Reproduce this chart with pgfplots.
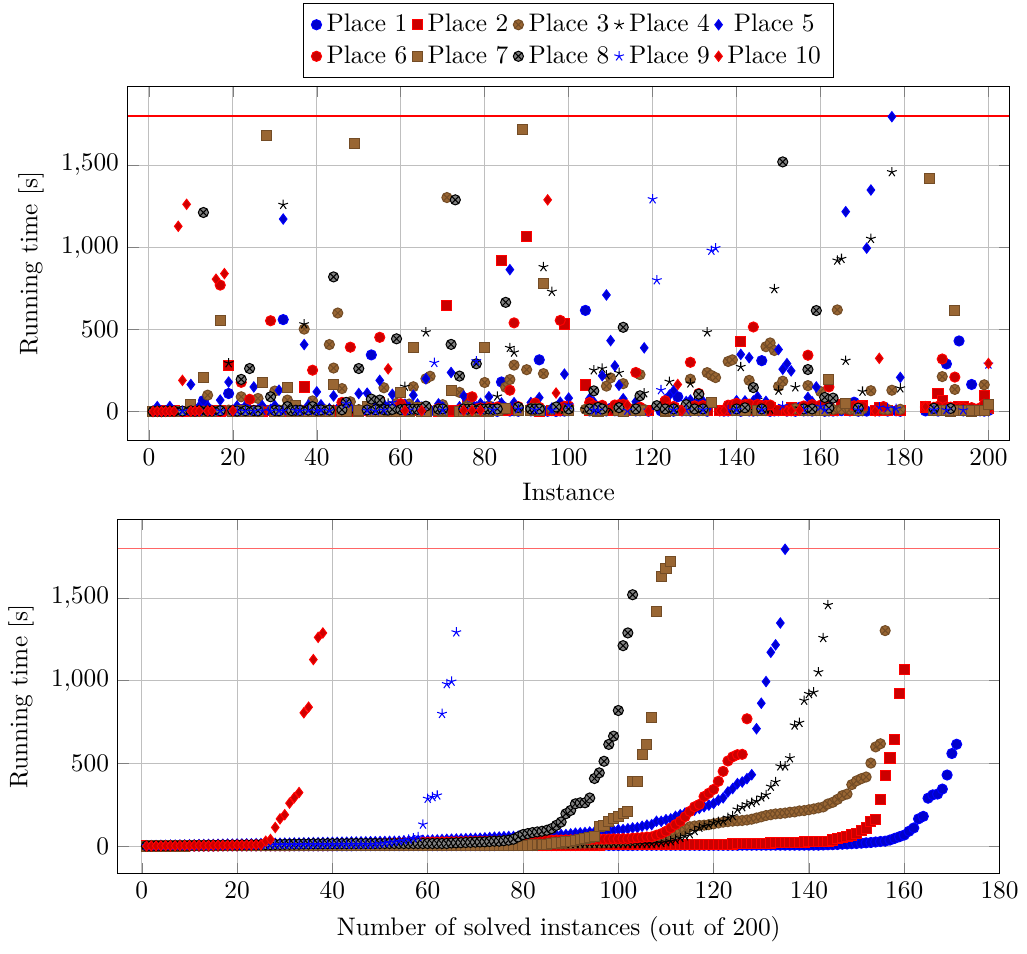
\documentclass[border=0pt]{standalone}
\usepackage{pgfplots}
\usepackage{pgfplotstable}
\pgfplotsset{compat=1.18}

% running time per instance and solver, 9999 = not solved
\pgfplotstableread{
i p1 p2 p3 p4 p5 p6 p7 p8 p9 p10
1 1 2 3 1 2 1 0 1 9999 0
2 2 3 1 2 30 1 1 2 1 1
3 3 1 2 4 3 0 2 1 9999 1
4 1 4 5 2 4 1 1 2 2 1
5 4 2 3 3 31 2 2 3 9999 2
6 2 5 4 1 5 1 1 2 9999 2
7 3 9999 9999 9999 9999 9999 9999 9999 9999 1128
8 1 3 9999 2 9999 9999 9999 3 2 190
9 5 9999 9999 9999 9999 9999 9999 9999 9999 1262
10 2 4 6 3 165 2 40 4 3 2
11 3 10 4 5 6 1 3 2 9999 3
12 1 2 7 2 32 2 1 5 1 3
13 67 5 3 4 7 3 207 1212 9999 9999
14 4 3 100 6 33 1 2 3 9999 4
15 2 6 5 3 8 2 3 4 2 4
16 6 9999 9999 9999 9999 9999 9999 9999 9999 806
17 3 4 8 5 70 770 553 5 3 9999
18 1 9999 9999 9999 9999 9999 9999 9999 9999 840
19 110 283 9 295 180 2 9999 9999 9999 9999
20 2 5 6 7 9 1 2 6 4 5
21 4 2 7 3 34 2 1 3 2 9999
22 3 6 90 4 10 178 4 196 9999 9999
23 5 11 4 6 35 3 2 5 3 9999
24 2 3 5 8 11 75 3 262 9999 9999
25 7 7 6 5 150 2 2 6 1 9999
26 1 4 80 3 12 1 1 4 9999 9999
27 4 2 7 9 36 3 177 9999 5 9999
28 9999 9999 9999 9999 9999 9999 1680 9999 9999 9999
29 3 5 8 6 13 553 9999 90 2 9999
30 2 8 125 4 37 2 3 7 9999 9999
31 5 3 9 7 130 1 2 5 4 9999
32 560 6 10 1259 1172 9999 9999 9999 3 9999
33 1 4 70 8 14 2 147 30 9999 9999
34 4 2 6 25 38 3 4 6 9999 9999
35 3 12 7 5 15 1 35 8 6 9999
36 2 5 11 9 16 2 3 7 2 9999
37 6 150 502 532 408 9999 9999 9999 9999 9999
38 1 3 8 6 40 3 2 9 5 9999
39 4 7 65 10 17 252 1 30 9999 9999
40 16 4 9 7 120 2 3 8 3 9999
41 3 2 12 11 41 1 4 10 7 9999
42 9999 9999 10 9999 9999 9999 9999 9999 9999 9999
43 5 6 408 8 18 3 2 9 4 9999
44 2 3 265 12 95 2 167 820 9999 9999
45 4 8 600 9 19 1 9999 9999 9999 9999
46 1 12 140 7 42 56 3 11 9999 9999
47 8 5 11 10 20 3 2 56 48 9999
48 3 2 60 13 21 392 9999 9999 9999 9999
49 9999 9999 9999 9999 9999 9999 1630 9999 9999 9999
50 2 4 12 11 110 2 4 262 9999 9999
51 9999 9999 9999 9999 9999 9999 9999 9999 9999 9999
52 5 7 13 6 112 1 30 10 6 9999
53 345 3 55 14 43 3 2 76 9999 9999
54 1 6 9 8 22 2 3 11 3 9999
55 4 57 14 12 190 452 9999 70 9999 9999
56 3 2 145 9 44 1 1 12 8 9999
57 2 5 10 50 23 3 4 9 9999 260
58 5 13 11 15 105 2 2 13 56 9999
59 1 4 50 10 24 1 3 443 9999 9999
60 30 6 12 13 25 48 117 12 9999 9999
61 3 3 13 152 45 8 2 14 5 6
62 2 7 46 11 26 12 4 13 9 9999
63 4 5 151 14 100 6 392 15 9999 9999
64 6 14 8 9 46 15 26 14 9999 9999
65 1 2 12 15 27 7 3 16 7 5
66 3 6 200 483 200 10 2 33 9999 9999
67 9999 9999 215 9999 9999 9999 9999 9999 9999 9999
68 5 9999 9999 9999 9999 9999 9999 9999 297 9999
69 2 3 14 12 47 18 5 15 9999 9999
70 4 8 42 10 28 9 4 16 8 9999
71 9999 645 1303 9999 9999 9999 9999 9999 9999 9999
72 3 4 9999 9999 238 9999 127 409 9999 9999
73 9999 9999 9999 9999 9999 9999 9999 1289 9999 9999
74 2 5 117 13 29 11 3 216 9999 9999
75 6 7 13 14 95 14 2 16 9 7
76 1 77 38 11 29 20 22 15 9999 9999
77 18 6 12 15 48 90 4 16 9999 6
78 4 3 14 12 28 16 3 291 307 9999
79 3 14 11 13 50 22 5 16 10 8
80 5 4 177 14 27 13 392 15 9999 9999
81 2 6 35 15 90 25 4 16 9999 9999
82 4 5 13 12 26 17 6 14 10 9999
83 1 8 14 92 25 28 5 16 9999 9999
84 180 921 12 14 52 9999 9999 9999 9999 9999
85 9 7 148 13 24 19 19 665 9999 9999
86 3 9999 195 388 864 130 9999 9999 9999 9999
87 5 15 283 360 54 540 9999 9999 9999 9999
88 2 6 13 15 23 30 6 26 15 9999
89 9999 9999 9999 9999 9999 9999 1719 9999 9999 9999
90 9999 1068 255 9999 9999 9999 9999 9999 9999 9999
91 4 5 14 12 55 21 5 16 9999 9999
92 3 7 32 18 22 52 16 15 10 9999
93 315 4 12 14 85 26 6 16 9999 9999
94 5 9999 231 880 9999 9999 778 9999 9999 9999
95 2 9999 9999 9999 9999 9999 9999 9999 9999 1289
96 6 8 13 730 21 9999 9999 9999 9 9999
97 1 5 9999 9999 9999 9999 9999 28 9999 113
98 4 16 30 15 57 555 9999 9999 9999 9999
99 3 533 14 13 228 32 9999 9999 9999 9999
100 5 6 12 14 82 34 6 16 40 9999
101 9999 9999 9999 9999 9999 9999 9999 9999 9999 9999
102 9999 9999 9999 9999 9999 9999 9999 9999 9999 9999
103 9999 9999 9999 9999 9999 9999 9999 9999 9999 9999
104 616 162 14 15 9999 9999 9999 9999 9999 9999
105 4 7 28 12 80 55 12 16 9999 9999
106 2 8 13 252 58 36 5 126 8 9999
107 6 17 14 14 20 24 4 25 7 9999
108 3 5 12 262 218 38 6 16 9999 9999
109 4 7 155 222 710 9999 9999 9999 9999 9999
110 20 6 205 15 432 9999 9999 9999 9999 9999
111 5 8 26 14 278 40 9999 9999 9999 9999
112 2 18 13 236 160 42 5 24 9999 9999
113 6 5 170 13 78 44 3 513 9999 9999
114 3 7 14 9999 9999 9999 9999 9999 6 40
115 9999 9999 9999 9999 9999 9999 9999 9999 9999 9999
116 4 8 24 15 60 238 10 16 9999 9999
117 5 6 225 14 19 27 6 96 9999 9999
118 10 7 13 112 388 9999 9999 9999 9999 9999
119 2 5 9999 9999 9999 9999 9999 9999 7 4
120 9999 9999 9999 9999 9999 9999 9999 9999 1293 9999
121 9999 9999 9999 9999 9999 9999 9999 36 800 9999
122 4 9999 9999 9999 9999 9999 9999 9999 131 9999
123 3 50 14 13 74 66 4 16 9999 9999
124 6 8 22 182 100 29 9999 9999 9999 9999
125 2 18 13 15 127 31 8 16 9 9999
126 90 7 9999 9999 9999 9999 9999 9999 9999 165
127 4 6 9999 9999 9999 9999 9999 9999 9999 7
128 5 8 14 14 61 33 6 42 8 9999
129 3 7 197 172 70 300 9999 9999 9999 9999
130 22 5 21 60 18 35 5 16 9999 9999
131 4 19 14 15 68 110 9999 106 9999 9999
132 6 8 13 14 63 37 6 16 10 9999
133 2 6 237 483 17 9999 9999 9999 9999 9999
134 9999 9999 220 9999 9999 9999 56 9999 980 9999
135 9999 9999 207 9999 9999 9999 9999 9999 995 9999
136 5 8 9999 9999 9999 9999 9999 9999 9999 5
137 3 7 9999 9999 9999 9999 9999 9999 9999 6
138 4 6 305 13 9999 39 9999 9999 9 9999
139 6 20 315 15 9999 41 9999 9999 9999 9999
140 37 8 14 14 66 50 5 16 10 9999
141 2 425 20 272 348 9999 9999 9999 9999 9999
142 12 7 13 15 65 43 6 23 9999 9999
143 4 8 190 14 328 45 9999 9999 9999 9999
144 3 21 14 30 65 515 9999 146 9999 9999
145 5 7 19 72 90 44 7 9999 9999 9999
146 310 6 13 15 16 36 6 16 10 9999
147 6 8 395 14 62 38 9999 9999 9999 9999
148 2 22 418 13 9999 40 9999 9999 9999 9999
149 4 7 372 746 9999 9999 9999 9999 9999 9999
150 5 8 153 128 378 9999 9999 9999 9999 9999
151 9999 9999 185 9999 258 9999 9999 1520 35 9999
152 3 6 9999 9999 292 9999 9999 9999 9999 4
153 6 23 9999 9999 248 9999 9999 9999 9999 5
154 2 7 18 148 9999 9999 9999 9999 9999 9999
155 25 8 9999 20 9999 9999 9999 9999 9999 8
156 4 6 13 15 15 34 6 16 10 9999
157 5 7 158 14 86 343 9999 256 9999 9999
158 3 24 14 13 60 42 5 16 9999 9999
159 6 9999 13 9999 150 9999 9999 615 9999 9999
160 13 8 122 15 9999 39 6 9999 30 9999
161 2 7 14 14 14 37 5 86 10 9999
162 4 25 17 13 58 150 197 22 9999 9999
163 3 6 13 9999 9999 9999 9999 82 9999 9999
164 5 9999 619 920 9999 9999 9999 9999 9999 9999
165 6 45 14 930 9999 9999 9999 9999 9999 9999
166 9999 9999 9999 310 1217 9999 50 9999 9999 9999
167 4 8 13 9999 9999 9999 9999 9999 9999 9999
168 57 26 14 9999 9999 35 9999 9999 9999 9999
169 2 7 13 15 13 31 6 21 9 9999
170 5 37 16 122 9999 33 9999 9999 9999 9999
171 3 9999 9999 9999 995 9999 9999 9999 9999 9999
172 9999 9999 127 1052 1349 9999 9999 9999 9999 9999
173 6 8 9999 9999 9999 9999 9999 9999 9999 3
174 4 27 9999 9999 9999 9999 9999 9999 26 324
175 28 7 14 9999 9999 30 9999 9999 9999 9999
176 3 6 13 9999 9999 9999 9999 9999 22 9999
177 9999 9999 130 1458 1795 9999 9999 9999 9999 9999
178 5 9999 9999 9999 9999 9999 9999 9999 18 9999
179 2 8 14 142 208 9999 9999 9999 9999 9999
180 9999 9999 9999 9999 9999 9999 9999 9999 9999 9999
181 9999 9999 9999 9999 9999 9999 9999 9999 9999 9999
182 9999 9999 9999 9999 9999 9999 9999 9999 9999 9999
183 9999 9999 9999 9999 9999 9999 9999 9999 9999 9999
184 9999 9999 9999 9999 9999 9999 9999 9999 9999 9999
185 4 28 9999 9999 9999 28 9999 9999 9999 30
186 9999 9999 9999 9999 9999 9999 1417 9999 9999 9999
187 6 7 15 15 12 26 5 20 10 9999
188 3 110 14 14 9999 32 6 9999 9999 9999
189 47 67 213 13 11 320 5 9999 9999 9999
190 290 8 13 15 9999 29 6 9999 9 9999
191 2 6 14 14 10 27 4 19 9999 9999
192 15 7 135 13 9 210 615 9999 9999 9999
193 430 29 12 9999 9999 25 5 9999 9999 9999
194 4 30 13 15 8 23 6 9999 8 9999
195 9999 9999 9999 9999 9999 9999 9999 9999 9999 9999
196 165 8 9999 9999 9999 24 4 9999 9999 9999
197 9999 9999 9999 9999 9999 9999 9999 9999 9999 9999
198 5 7 14 14 7 22 5 9999 9999 9999
199 3 97 163 13 6 45 6 9999 9999 9999
200 6 22 14 40 5 21 45 9999 287 293
}\results

% sorted copies for the cactus plot
\pgfplotstablesort[sort key=p1]{\sA}{\results}
\pgfplotstablesort[sort key=p2]{\sB}{\results}
\pgfplotstablesort[sort key=p3]{\sC}{\results}
\pgfplotstablesort[sort key=p4]{\sD}{\results}
\pgfplotstablesort[sort key=p5]{\sE}{\results}
\pgfplotstablesort[sort key=p6]{\sF}{\results}
\pgfplotstablesort[sort key=p7]{\sG}{\results}
\pgfplotstablesort[sort key=p8]{\sH}{\results}
\pgfplotstablesort[sort key=p9]{\sI}{\results}
\pgfplotstablesort[sort key=p10]{\sJ}{\results}

\begin{document}
\begin{tikzpicture}
\pgfplotsset{
  runtime/.style={
    scale only axis, width=347.5pt, height=139.6pt,
    ytick={0,500,1000,1500},
    grid=major, only marks,
    restrict y to domain=-1000:5000,
    ylabel={Running time [s]},
  },
}
\begin{axis}[runtime,
  xmin=-5, xmax=205, ymin=-177, ymax=1979,
  xtick={0,20,...,200},
  xlabel={Instance},
  legend columns=5,
  legend style={at={(0.5,1.025)}, anchor=south},
]
\addplot[color=red, draw=red, semithick, sharp plot, no markers, forget plot] coordinates {(-5,1800) (205,1800)};
\addplot table[x=i, y=p1]{\results}; \addlegendentry{Place 1}
\addplot table[x=i, y=p2]{\results}; \addlegendentry{Place 2}
\addplot table[x=i, y=p3]{\results}; \addlegendentry{Place 3}
\addplot table[x=i, y=p4]{\results}; \addlegendentry{Place 4}
\addplot table[x=i, y=p5]{\results}; \addlegendentry{Place 5}
\addplot table[x=i, y=p6]{\results}; \addlegendentry{Place 6}
\addplot table[x=i, y=p7]{\results}; \addlegendentry{Place 7}
\addplot table[x=i, y=p8]{\results}; \addlegendentry{Place 8}
\addplot table[x=i, y=p9]{\results}; \addlegendentry{Place 9}
\addplot table[x=i, y=p10]{\results}; \addlegendentry{Place 10}
\end{axis}

\begin{axis}[runtime, at={(-3.9pt,-170.6pt)},
  xmin=-5, xmax=180, ymin=-165, ymax=1976,
  xtick={0,20,...,180},
  xlabel={Number of solved instances (out of 200)},
]
\addplot table[x expr=\coordindex+1, y=p1]{\sA};
\addplot table[x expr=\coordindex+1, y=p2]{\sB};
\addplot table[x expr=\coordindex+1, y=p3]{\sC};
\addplot table[x expr=\coordindex+1, y=p4]{\sD};
\addplot table[x expr=\coordindex+1, y=p5]{\sE};
\addplot table[x expr=\coordindex+1, y=p6]{\sF};
\addplot table[x expr=\coordindex+1, y=p7]{\sG};
\addplot table[x expr=\coordindex+1, y=p8]{\sH};
\addplot table[x expr=\coordindex+1, y=p9]{\sI};
\addplot table[x expr=\coordindex+1, y=p10]{\sJ};
\addplot[red!60, semithick, sharp plot, no markers, forget plot] coordinates {(-5,1800) (180,1800)};
\end{axis}
\path (-50.2pt,-202pt) rectangle (352.5pt,173.7pt);
\end{tikzpicture}
\end{document}
